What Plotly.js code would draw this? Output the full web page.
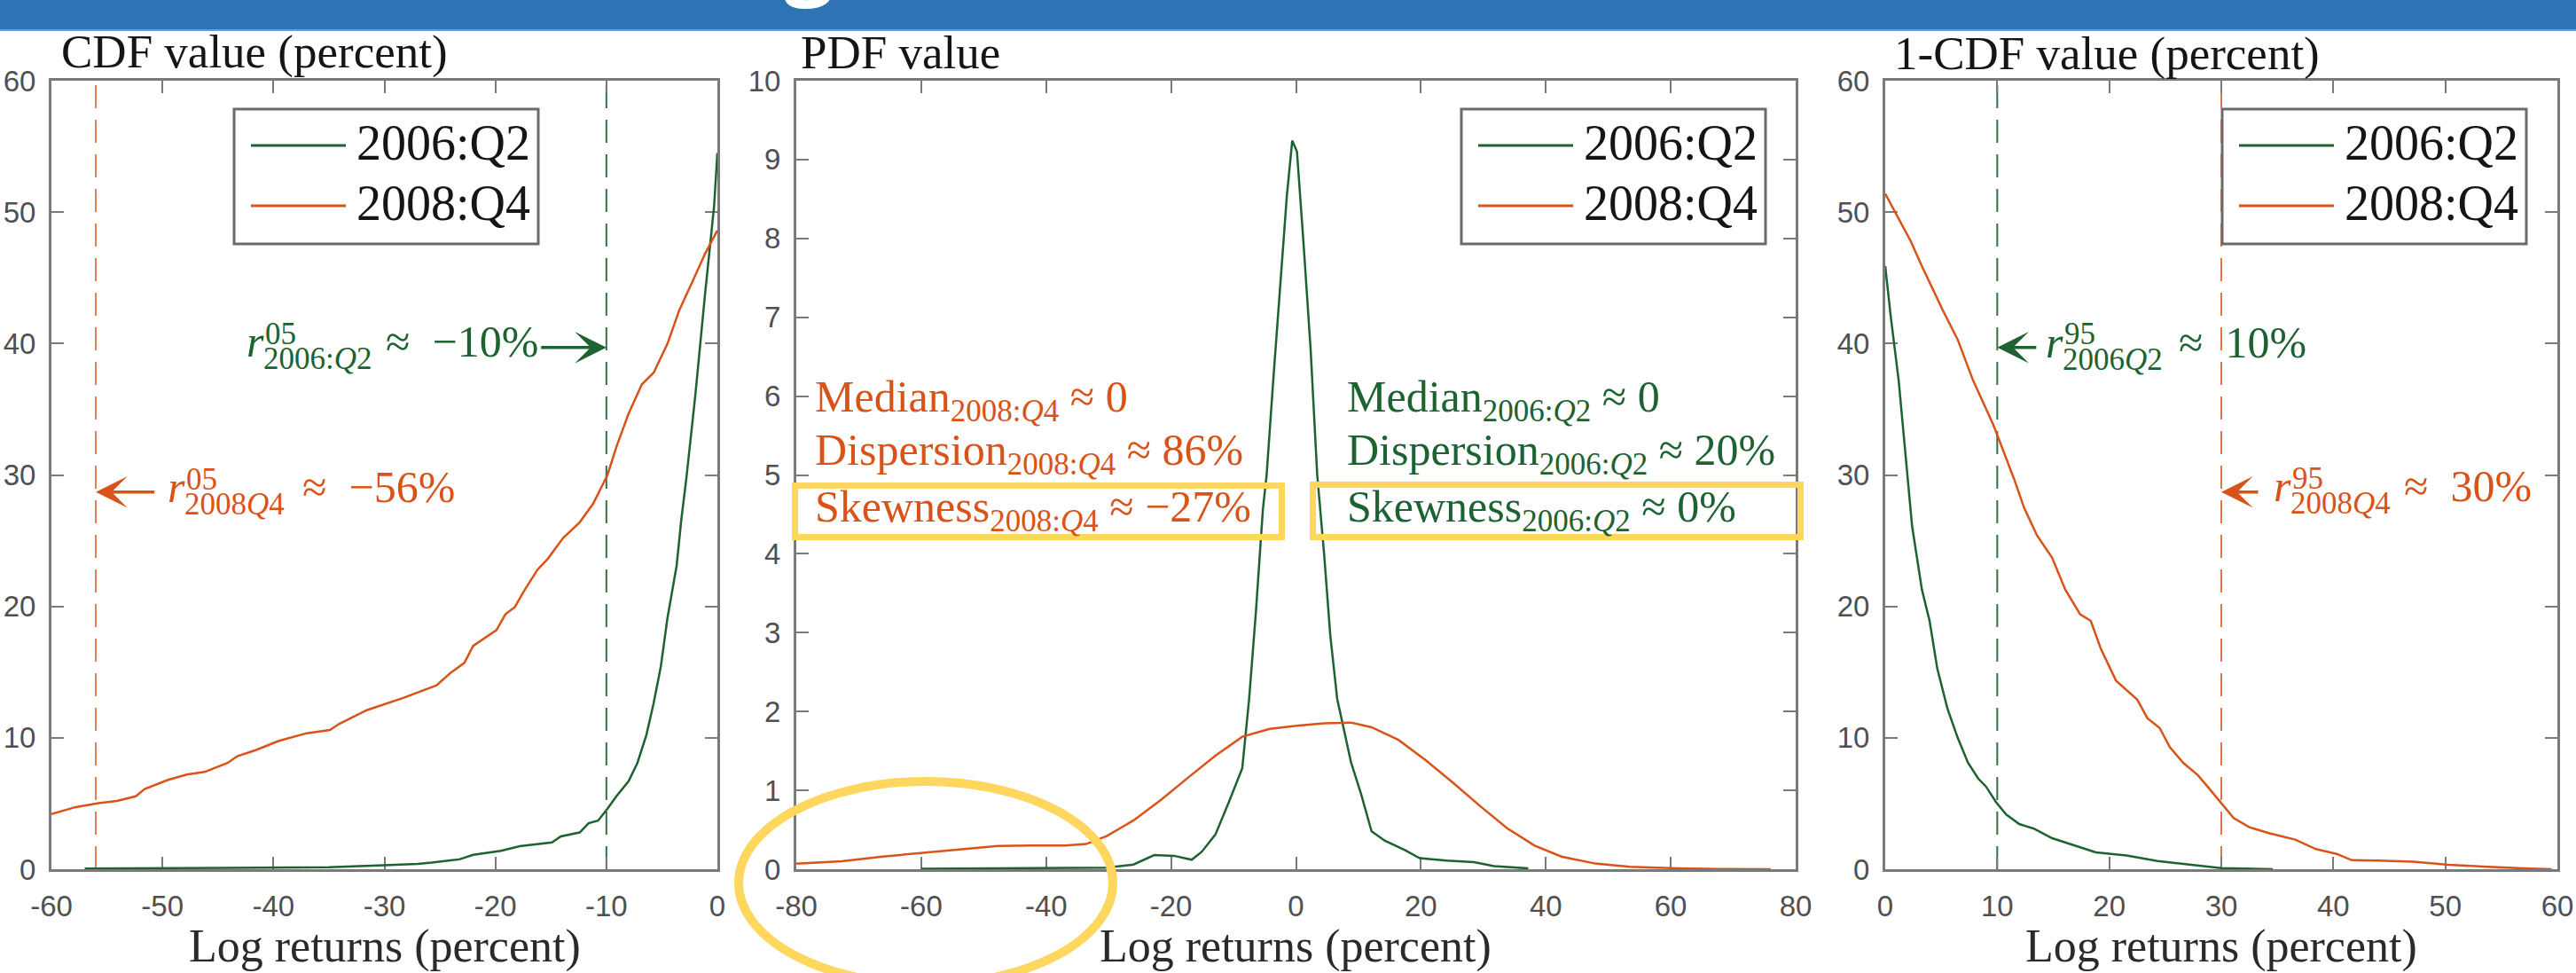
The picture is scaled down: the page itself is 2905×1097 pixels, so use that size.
<!DOCTYPE html>
<html>
<head>
<meta charset="utf-8">
<script src="https://cdn.plot.ly/plotly-3.0.1.min.js"></script>
<style>
html,body{margin:0;padding:0;background:#ffffff;}
#chart{width:2905px;height:1097px;}
</style>
</head>
<body>
<div id="chart"></div>
<script>
// ---------------- data ----------------
const seriesNames = ['2006:Q2', '2008:Q4'];

// Panel 1: CDF (percent) vs log returns (percent)
const cdfX2006 = [-57, -50, -45, -40, -35, -30, -27, -25.75, -24.5, -23.25, -22, -19.5, -17.8, -16, -14.9, -14.1, -12.4, -11.6, -10.75, -9.9, -9.1, -8.0, -7.2, -6.4, -5.75, -5.1, -4.5, -3.67, -3.25, -2.8, -1.97, -1.13, -0.3, 0];
const cdfY2006 = [0.05, 0.08, 0.1, 0.12, 0.15, 0.3, 0.4, 0.5, 0.6, 0.75, 1.1, 1.4, 1.75, 1.9, 2.04, 2.5, 2.8, 3.5, 3.7, 4.6, 5.55, 6.7, 8.1, 10.2, 12.6, 15.4, 19.1, 23.1, 26.6, 29.7, 36.2, 43.6, 50.4, 54.5];
const cdfX2008 = [-60, -57.8, -55.75, -54.1, -52.4, -51.6, -49.5, -47.8, -46.2, -44.1, -43.25, -41.6, -39.5, -37, -34.9, -34.1, -31.6, -29.9, -28.25, -25.3, -24.1, -22.8, -22, -19.9, -19.1, -18.25, -17.4, -16.2, -15.3, -13.9, -12.4, -11.2, -9.9, -9.07, -8.03, -6.8, -5.73, -4.49, -3.45, -2.2, -1.13, 0];
const cdfY2008 = [4.2, 4.73, 5.03, 5.2, 5.55, 6.1, 6.8, 7.2, 7.4, 8.1, 8.6, 9.06, 9.77, 10.35, 10.6, 11.05, 12.1, 12.6, 13.05, 14.0, 14.9, 15.7, 17.0, 18.2, 19.4, 19.95, 21.2, 22.8, 23.6, 25.2, 26.4, 27.8, 30.0, 32.2, 34.6, 36.9, 37.8, 40.0, 42.5, 44.8, 46.8, 48.6];

// Panel 2: PDF value vs log returns (percent)
const pdfX2006 = [-60, -50, -40, -34, -30.3, -26, -22.7, -19.5, -16.7, -15.1, -12.9, -10.8, -8.6, -7.5, -6.4, -5.3, -4.7, -3.64, -2.55, -1.47, -0.6, 0.16, 1.25, 2.34, 3.4, 4.5, 5.5, 6.6, 7.7, 8.8, 10.4, 12.1, 14.25, 17.5, 19.8, 24.1, 28.5, 31.7, 37.2];
const pdfY2006 = [0.005, 0.01, 0.01, 0.015, 0.02, 0.06, 0.18, 0.17, 0.12, 0.22, 0.44, 0.84, 1.28, 2.16, 3.28, 4.56, 5.0, 6.2, 7.4, 8.53, 9.24, 9.1, 7.89, 6.6, 5.0, 4.0, 2.96, 2.16, 1.76, 1.36, 0.96, 0.48, 0.36, 0.24, 0.14, 0.11, 0.09, 0.04, 0.01];
const pdfX2008 = [-80, -72.7, -66.2, -59.7, -53.2, -47.7, -42.3, -36.85, -33.6, -30.3, -26, -21.6, -17.3, -12.9, -8.6, -4.2, 0.1, 4.5, 8.8, 12.1, 16.4, 20.8, 25.1, 29.5, 33.8, 38.2, 42.5, 47.9, 53.4, 61, 68, 76];
const pdfY2008 = [0.07, 0.1, 0.16, 0.21, 0.26, 0.296, 0.3, 0.3, 0.32, 0.42, 0.62, 0.88, 1.16, 1.44, 1.68, 1.78, 1.82, 1.85, 1.86, 1.8, 1.64, 1.38, 1.1, 0.8, 0.52, 0.3, 0.16, 0.072, 0.032, 0.012, 0.004, 0];

// Panel 3: 1-CDF (percent) vs log returns (percent)
const sfX2006 = [0, 0.5, 1.2, 1.7, 2.1, 2.4, 3.27, 3.96, 4.64, 5.56, 6.47, 7.39, 8.3, 8.99, 9.9, 10.8, 11.96, 13.3, 14.9, 17, 18.8, 21.55, 24.3, 27.5, 30, 34.6];
const sfY2006 = [45.9, 42, 37.2, 32.4, 28.5, 26.1, 21.3, 18.9, 15.3, 12.2, 10.0, 8.1, 6.9, 6.3, 5.1, 4.16, 3.44, 3.08, 2.36, 1.76, 1.28, 1.05, 0.63, 0.32, 0.09, 0];
const sfX2008 = [0, 2.27, 3.27, 5.1, 6.47, 7.84, 9.66, 11.5, 12.4, 13.55, 14.9, 16.06, 17.4, 18.35, 19.26, 20.6, 22.5, 23.4, 24.5, 25.4, 26.6, 27.9, 28.86, 30.0, 31.1, 32.5, 34.3, 36.6, 38.45, 40.3, 41.65, 44, 47.1, 50.3, 54, 57, 59.5];
const sfY2008 = [51.4, 47.8, 45.9, 42.6, 40.3, 37.2, 33.8, 29.7, 27.5, 25.4, 23.7, 21.3, 19.4, 18.9, 16.75, 14.35, 12.9, 11.5, 10.75, 9.3, 8.1, 7.16, 6.2, 5.0, 3.9, 3.2, 2.73, 2.25, 1.53, 1.17, 0.69, 0.65, 0.57, 0.33, 0.16, 0.06, 0];

// quantiles (percent): [2006:Q2, 2008:Q4]
const q05 = [-10, -56];
const q95 = [10, 30];
// CDF level where arrows point (percent): [2006:Q2, 2008:Q4]
const arrowLevel = [39.7, 28.7];

// tick labels
const cdfTicks = [-60, -50, -40, -30, -20, -10, 0];
const cdfTickText = ['-60', '-50', '-40', '-30', '-20', '-10', '0'];
const pdfTicks = [-80, -60, -40, -20, 0, 20, 40, 60, 80];
const pdfTickText = ['-80', '-60', '-40', '-20', '0', '20', '40', '60', '80'];
const sfTicks = [0, 10, 20, 30, 40, 50, 60];
const sfTickText = ['0', '10', '20', '30', '40', '50', '60'];
const pctTicks = [0, 10, 20, 30, 40, 50, 60];
const pdfYTicks = [0, 1, 2, 3, 4, 5, 6, 7, 8, 9, 10];

// ---------------- styling / layout ----------------
const W = 2905, H = 1097;
const X = p => p / W;
const Y = p => 1 - p / H;
const GREEN = '#1d6231';
const ORANGE = '#D95319';
const YELLOW = '#FFD75E';
const AXIS = '#7a7a7a';
const SERIF = '"Liberation Serif", "Times New Roman", serif';
const TICKFONT = {family: '"Liberation Sans", Arial, sans-serif', size: 33, color: '#505050'};
const colors = [GREEN, ORANGE];
const EN = '\u2002';

function axisBase(extra) {
  return Object.assign({
    showline: true, linecolor: AXIS, linewidth: 3, mirror: 'ticks',
    ticks: 'inside', ticklen: 14, tickwidth: 2, tickcolor: AXIS,
    showgrid: false, zeroline: false, tickfont: TICKFONT,
    layer: 'below traces', fixedrange: true, tickmode: 'array'
  }, extra);
}
const xStand = 10, yStand = 8;

function line(x, y, xa, ya, color, name) {
  return {x: x, y: y, xaxis: xa, yaxis: ya, type: 'scatter', mode: 'lines',
          line: {color: color, width: 2.5}, name: name, showlegend: false, hoverinfo: 'skip'};
}

const data = [
  line(cdfX2006, cdfY2006, 'x', 'y', GREEN, seriesNames[0]),
  line(cdfX2008, cdfY2008, 'x', 'y', ORANGE, seriesNames[1]),
  line(pdfX2006, pdfY2006, 'x2', 'y2', GREEN, seriesNames[0]),
  line(pdfX2008, pdfY2008, 'x2', 'y2', ORANGE, seriesNames[1]),
  line(sfX2006, sfY2006, 'x3', 'y3', GREEN, seriesNames[0]),
  line(sfX2008, sfY2008, 'x3', 'y3', ORANGE, seriesNames[1])
];

const shapes = [];
const annotations = [];

// banner at top
shapes.push({type: 'rect', xref: 'paper', yref: 'paper', x0: 0, x1: 1, y0: Y(34), y1: 1.01,
             fillcolor: '#2E74B5', line: {width: 0}, layer: 'above'});
shapes.push({type: 'line', xref: 'paper', yref: 'paper', x0: 0, x1: 1, y0: Y(34), y1: Y(34),
             line: {color: '#6e9bd0', width: 2}, layer: 'above'});
annotations.push({xref: 'paper', yref: 'paper', x: X(912), y: Y(16), xanchor: 'center', yanchor: 'bottom',
                  text: '<b>g</b>', showarrow: false, borderpad: 0,
                  font: {family: '"Open Sans", sans-serif', size: 100, color: '#ffffff'}});

// quantile dashed lines
function vline(xa, q, color, opacity) {
  shapes.push({type: 'line', xref: xa, yref: xa.replace('x', 'y') + ' domain', x0: q, x1: q, y0: 0, y1: 1,
               opacity: opacity, line: {color: color, width: 2, dash: '26px,13px'}, layer: 'below'});
}
vline('x', q05[1], ORANGE, 0.75);
vline('x', q05[0], GREEN, 0.9);
vline('x3', q95[0], GREEN, 0.9);
vline('x3', q95[1], ORANGE, 0.8);

// arrows pointing at the quantile lines
function arrow(xa, q, tail, level, color) {
  annotations.push({xref: xa, yref: xa.replace('x', 'y'), x: q, y: level,
                    axref: xa, ayref: xa.replace('x', 'y'), ax: tail, ay: level,
                    text: '', showarrow: true, arrowhead: 3, arrowsize: 1.7, arrowwidth: 3.5,
                    arrowcolor: color});
}
arrow('x', q05[0], -16.0, arrowLevel[0], GREEN);
arrow('x', q05[1], -50.6, arrowLevel[1], ORANGE);
arrow('x3', q95[0], 13.6, arrowLevel[0], GREEN);
arrow('x3', q95[1], 33.4, arrowLevel[1], ORANGE);

function txt(text, x, y, size, color, extra) {
  annotations.push(Object.assign({xref: 'paper', yref: 'paper', x: X(x), y: Y(y), xanchor: 'left', yanchor: 'middle',
                    text: text, showarrow: false, borderpad: 0,
                    font: {family: SERIF, size: size, color: color}}, extra || {}));
}
// quantile labels: r with stacked super/subscripts
function rLabel(x, y, sup, sub, color) {
  txt('<i>r</i>', x, y, 50, color);
  txt(sup, x + 21, y - 9, 35, color);
  txt(sub, x + 19, y + 19, 35, color);
}
rLabel(277, 385, '05', '2006:<i>Q</i>2', GREEN);
txt('\u2248' + EN + '\u221210%', 434, 385, 50, GREEN);
rLabel(188, 549, '05', '2008<i>Q</i>4', ORANGE);
txt('\u2248' + EN + '\u221256%', 340, 549, 50, ORANGE);
rLabel(2306, 386, '95', '2006<i>Q</i>2', GREEN);
txt('\u2248' + EN + '10%', 2456, 386, 50, GREEN);
rLabel(2563, 548, '95', '2008<i>Q</i>4', ORANGE);
txt('\u2248' + EN + '30%', 2710, 548, 50, ORANGE);

// moment texts in PDF panel
txt('Median<sub>2008:<i>Q</i>4</sub> \u2248 0', 918, 451, 50, ORANGE);
txt('Dispersion<sub>2008:<i>Q</i>4</sub> \u2248 86%', 918, 511, 50, ORANGE);
txt('Skewness<sub>2008:<i>Q</i>4</sub> \u2248 \u221227%', 918, 575, 50, ORANGE);
txt('Median<sub>2006:<i>Q</i>2</sub> \u2248 0', 1518, 451, 50, GREEN);
txt('Dispersion<sub>2006:<i>Q</i>2</sub> \u2248 20%', 1518, 511, 50, GREEN);
txt('Skewness<sub>2006:<i>Q</i>2</sub> \u2248 0%', 1518, 575, 50, GREEN);

// highlight boxes and ellipse
shapes.push({type: 'rect', xref: 'paper', yref: 'paper', x0: X(896.5), x1: X(1445.5), y0: Y(605.5), y1: Y(547.5),
             line: {color: YELLOW, width: 7}, fillcolor: 'rgba(0,0,0,0)', layer: 'above'});
shapes.push({type: 'rect', xref: 'paper', yref: 'paper', x0: X(1480.5), x1: X(2030.5), y0: Y(605.5), y1: Y(546.5),
             line: {color: YELLOW, width: 7}, fillcolor: 'rgba(0,0,0,0)', layer: 'above'});
shapes.push({type: 'circle', xref: 'paper', yref: 'paper', x0: X(833), x1: X(1255), y0: Y(1110), y1: Y(881),
             line: {color: YELLOW, width: 10}, fillcolor: 'rgba(0,0,0,0)', layer: 'above'});

// legends (one per panel)
const legendLefts = [264, 1648, 2506];
legendLefts.forEach(function (L) {
  shapes.push({type: 'rect', xref: 'paper', yref: 'paper', x0: X(L), x1: X(L + 343), y0: Y(275), y1: Y(123),
               fillcolor: '#ffffff', line: {color: '#6b6b6b', width: 3}, layer: 'above'});
  [164, 232].forEach(function (yy, i) {
    shapes.push({type: 'line', xref: 'paper', yref: 'paper', x0: X(L + 19), x1: X(L + 126), y0: Y(yy), y1: Y(yy),
                 line: {color: colors[i], width: 3}, layer: 'above'});
    txt(seriesNames[i], L + 137, yy - 3, 56, '#151515');
  });
});

// panel titles and axis labels
txt('CDF value (percent)', 68, 59, 53, '#151515');
txt('PDF value', 902, 59, 53, '#151515');
txt('1-CDF value (percent)', 2135, 61, 53, '#151515');
[[58, 809], [898, 2025], [2126, 2884]].forEach(function (d) {
  txt('Log returns (percent)', (d[0] + d[1]) / 2, 1067, 52, '#2a2a2a', {xanchor: 'center'});
});

const layout = {
  width: W, height: H,
  margin: {l: 0, r: 0, t: 0, b: 0, pad: 0},
  paper_bgcolor: '#ffffff', plot_bgcolor: '#ffffff',
  showlegend: false,
  xaxis: axisBase({domain: [X(58), X(809)], range: [-60, 0], anchor: 'y', tickvals: cdfTicks, ticktext: cdfTickText, ticklabelstandoff: xStand}),
  yaxis: axisBase({domain: [Y(980), Y(91)], range: [0, 60], anchor: 'x', tickvals: pctTicks, ticktext: pctTicks.map(String), ticklabelstandoff: yStand}),
  xaxis2: axisBase({domain: [X(898), X(2025)], range: [-80, 80], anchor: 'y2', tickvals: pdfTicks, ticktext: pdfTickText, ticklabelstandoff: xStand}),
  yaxis2: axisBase({domain: [Y(980), Y(91)], range: [0, 10], anchor: 'x2', tickvals: pdfYTicks, ticktext: pdfYTicks.map(String), ticklabelstandoff: yStand}),
  xaxis3: axisBase({domain: [X(2126), X(2884)], range: [0, 60], anchor: 'y3', tickvals: sfTicks, ticktext: sfTickText, ticklabelstandoff: xStand}),
  yaxis3: axisBase({domain: [Y(980), Y(91)], range: [0, 60], anchor: 'x3', tickvals: pctTicks, ticktext: pctTicks.map(String), ticklabelstandoff: yStand}),
  shapes: shapes,
  annotations: annotations
};

Plotly.newPlot('chart', data, layout, {staticPlot: true, displayModeBar: false});
</script>
</body>
</html>
